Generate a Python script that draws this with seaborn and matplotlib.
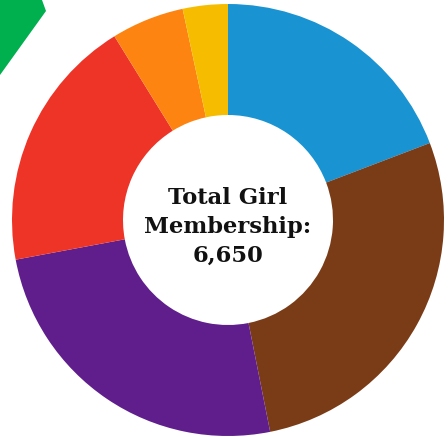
import matplotlib
matplotlib.use("Agg")
import matplotlib.pyplot as plt
import seaborn as sns
from matplotlib.patches import Polygon

# Data
categories = ["Blue", "Brown", "Purple", "Red", "Orange", "Yellow"]
values = [1277, 1840, 1675, 1272, 362, 224]
colors = ["#1a93d2", "#7a3b17", "#5f1e8c", "#ee3327", "#fd8410", "#f6bd00"]
center_text = "Total Girl\nMembership:\n6,650"

sns.set_theme(style="white")
sns.set_palette(colors)

W, H = 448, 437
fig = plt.figure(figsize=(W / 100, H / 100), dpi=100)
ax = fig.add_axes([0, 0, 1, 1])

cx, cy, R = 228, H - 220, 216
ax.pie(values, colors=sns.color_palette(colors), startangle=90, counterclock=False,
       center=(cx, cy), radius=R, frame=True,
       wedgeprops=dict(width=R - 105, linewidth=0, antialiased=True))
ax.set_xlim(0, W)
ax.set_ylim(0, H)
ax.set_aspect("equal")
ax.axis("off")

# decorative green corner shape
green = Polygon([(0, H), (42, H), (46, H - 11), (0, H - 75)], closed=True,
                facecolor="#00b04f", edgecolor="none", joinstyle="round")
ax.add_patch(green)

ax.text(cx, cy - 7, center_text, ha="center", va="center", fontsize=16.3,
        fontweight="bold", family=["DejaVu Serif"], color="#111111",
        linespacing=1.42)

fig.savefig("out.png", dpi=100)
